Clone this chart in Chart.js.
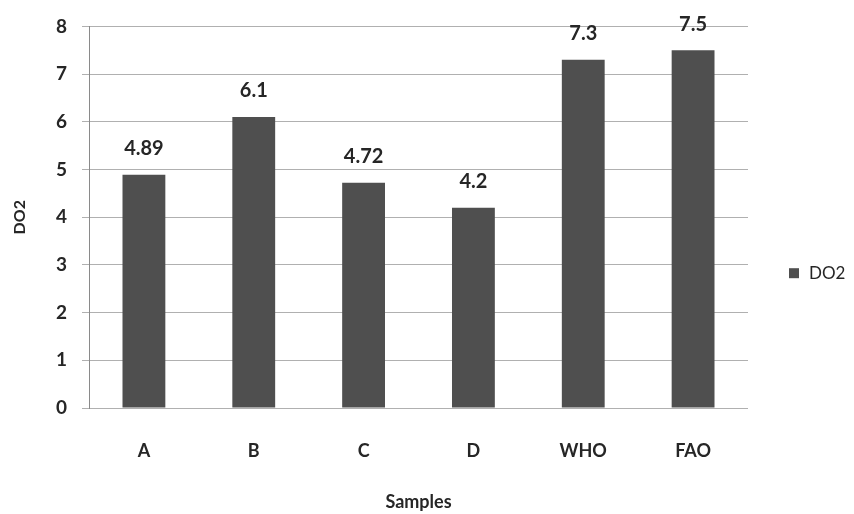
<!DOCTYPE html>
<html>
<head>
<meta charset="utf-8">
<script src="https://cdn.jsdelivr.net/npm/chart.js@4.4.1/dist/chart.umd.min.js"></script>
<style>
  html, body { margin: 0; padding: 0; background: #fff; }
  #wrap { width: 854px; height: 514px; position: relative; }
</style>
</head>
<body>
<div id="wrap"><canvas id="c" width="854" height="514"></canvas></div>
<script>
// Dissolved oxygen per sample, with the WHO and FAO reference levels
const categories = ['A', 'B', 'C', 'D', 'WHO', 'FAO'];
const do2Values = [4.89, 6.1, 4.72, 4.2, 7.3, 7.5];
const yTicks = [0, 1, 2, 3, 4, 5, 6, 7, 8];
const seriesName = 'DO2';
const xTitle = 'Samples';
const yTitle = 'DO2';

const FONT = 'Lato, "Open Sans", sans-serif';
const INK = '#262626';
const BAR = '#4f4f4f';

// Value labels above each bar
const valueLabels = {
  id: 'valueLabels',
  afterDatasetsDraw(chart) {
    const ctx = chart.ctx;
    const meta = chart.getDatasetMeta(0);
    ctx.save();
    ctx.font = 'bold 20px ' + FONT;
    ctx.fillStyle = INK;
    ctx.textAlign = 'center';
    ctx.textBaseline = 'middle';
    meta.data.forEach((bar, i) => {
      ctx.fillText(String(chart.data.datasets[0].data[i]), bar.x, bar.y - 26);
    });
    ctx.restore();
  }
};

// Single-entry legend on the right side
const sideLegend = {
  id: 'sideLegend',
  afterDraw(chart) {
    const ctx = chart.ctx;
    const ds = chart.data.datasets[0];
    const y = (chart.chartArea.top + chart.chartArea.bottom) / 2 + 56;
    ctx.save();
    ctx.fillStyle = ds.backgroundColor;
    ctx.fillRect(789, y - 5, 10, 10);
    ctx.font = '17px ' + FONT;
    ctx.fillStyle = INK;
    ctx.textAlign = 'left';
    ctx.textBaseline = 'middle';
    ctx.fillText(ds.label, 809, y);
    ctx.restore();
  }
};

new Chart(document.getElementById('c'), {
  type: 'bar',
  data: {
    labels: categories,
    datasets: [{
      label: seriesName,
      data: do2Values,
      backgroundColor: BAR,
      borderWidth: 0,
      barPercentage: 0.39,
      categoryPercentage: 1.0
    }]
  },
  options: {
    responsive: false,
    animation: false,
    layout: { padding: { top: 23, right: 106, left: 0, bottom: 0 } },
    plugins: {
      legend: { display: false },
      tooltip: { enabled: false }
    },
    scales: {
      x: {
        grid: { display: false, drawTicks: false },
        border: { display: false },
        ticks: { color: INK, font: { family: FONT, size: 18, weight: 'bold' }, padding: 32 },
        title: {
          display: true, text: xTitle, color: INK,
          font: { family: FONT, size: 18, weight: 'bold' },
          padding: { top: 0, bottom: 1 }
        },
        afterFit(scale) { scale.height = 106; }
      },
      y: {
        min: 0, max: 8,
        afterBuildTicks(scale) { scale.ticks = yTicks.map(v => ({ value: v })); },
        grid: { color: '#b0b0b0', lineWidth: 1, tickLength: 7, drawTicks: true },
        border: { display: true, color: '#8a8a8a', width: 1 },
        ticks: { color: INK, font: { family: FONT, size: 19, weight: 'bold' }, padding: 15 },
        title: {
          display: true, text: yTitle, color: INK,
          font: { family: FONT, size: 16, weight: 'bold' },
          padding: { top: 10, bottom: 0 }
        },
        afterFit(scale) { scale.width = 89; }
      }
    }
  },
  plugins: [valueLabels, sideLegend]
});
</script>
</body>
</html>
